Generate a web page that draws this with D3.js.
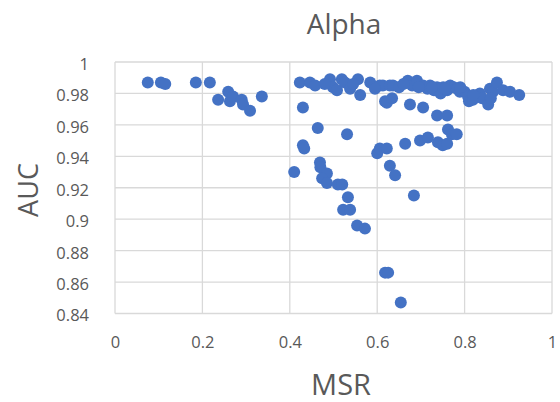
<!DOCTYPE html>
<html>
<head>
<meta charset="utf-8">
<script src="https://cdn.jsdelivr.net/npm/d3@7"></script>
<style>
  html, body { margin: 0; padding: 0; background: #fff; }
  svg text { font-family: "Open Sans", "Noto Sans", sans-serif; fill: #595959; }
</style>
</head>
<body>
<svg id="chart" width="560" height="402"></svg>
<script>
// MSR vs AUC for the Alpha runs
const msr = [
  0.075, 0.105, 0.115, 0.185, 0.217,
  0.236, 0.259, 0.263, 0.270, 0.290, 0.293, 0.309, 0.336,
  0.423, 0.446, 0.458, 0.492, 0.499, 0.508, 0.519, 0.526, 0.538, 0.556, 0.561, 0.584,
  0.606, 0.613, 0.629, 0.636, 0.650, 0.670, 0.680, 0.691, 0.705, 0.715, 0.721, 0.730,
  0.737, 0.745, 0.751, 0.760, 0.767, 0.775, 0.783, 0.789, 0.800, 0.808, 0.810, 0.819,
  0.835, 0.840, 0.854, 0.858, 0.865, 0.874, 0.888, 0.904, 0.925,
  0.480, 0.545, 0.595, 0.660, 0.695, 0.725, 0.755, 0.790, 0.820, 0.860,
  0.430, 0.618, 0.622, 0.634, 0.675, 0.705, 0.737, 0.760,
  0.464, 0.531, 0.430, 0.433, 0.410, 0.469, 0.470, 0.485, 0.474, 0.485, 0.510, 0.520,
  0.533, 0.522, 0.538, 0.554, 0.572,
  0.600, 0.606, 0.622, 0.629, 0.641, 0.664, 0.684, 0.618, 0.625, 0.654,
  0.698, 0.716, 0.739, 0.750, 0.762, 0.771, 0.782, 0.760
];
const auc = [
  0.987, 0.987, 0.986, 0.987, 0.987,
  0.976, 0.981, 0.975, 0.978, 0.976, 0.973, 0.969, 0.978,
  0.987, 0.987, 0.985, 0.989, 0.984, 0.982, 0.989, 0.987, 0.983, 0.989, 0.979, 0.987,
  0.985, 0.985, 0.985, 0.985, 0.984, 0.988, 0.985, 0.988, 0.985, 0.983, 0.985, 0.982,
  0.984, 0.980, 0.984, 0.982, 0.985, 0.984, 0.983, 0.981, 0.981, 0.978, 0.975, 0.976,
  0.980, 0.977, 0.973, 0.983, 0.981, 0.987, 0.982, 0.981, 0.979,
  0.986, 0.986, 0.983, 0.986, 0.984, 0.984, 0.983, 0.984, 0.979, 0.977,
  0.971, 0.975, 0.974, 0.977, 0.973, 0.971, 0.966, 0.966,
  0.958, 0.954, 0.947, 0.945, 0.930, 0.936, 0.933, 0.929, 0.926, 0.923, 0.922, 0.922,
  0.914, 0.906, 0.906, 0.896, 0.894,
  0.942, 0.945, 0.945, 0.934, 0.928, 0.948, 0.915, 0.866, 0.866, 0.847,
  0.950, 0.952, 0.949, 0.947, 0.957, 0.954, 0.954, 0.948
];
const xTicks = [0, 0.2, 0.4, 0.6, 0.8, 1];
const yTicks = [0.84, 0.86, 0.88, 0.9, 0.92, 0.94, 0.96, 0.98, 1];
const chartTitle = "Alpha";
const xTitle = "MSR";
const yTitle = "AUC";

const svg = d3.select("#chart");
const plot = { left: 115, right: 552, top: 62, bottom: 313.5 };

const x = d3.scaleLinear().domain([0, 1]).range([plot.left, plot.right]);
const y = d3.scaleLinear().domain([0.84, 1]).range([plot.bottom, plot.top]);

const fmt = d => String(+d.toFixed(2));

// gridlines
const grid = svg.append("g").attr("stroke", "#d9d9d9").attr("stroke-width", 1.3);
grid.selectAll("line.h").data(yTicks).join("line")
  .attr("x1", plot.left).attr("x2", plot.right)
  .attr("y1", d => y(d)).attr("y2", d => y(d));
grid.selectAll("line.v").data(xTicks).join("line")
  .attr("y1", plot.top).attr("y2", plot.bottom)
  .attr("x1", d => x(d)).attr("x2", d => x(d));

// axes (labels only, gridlines drawn above)
const xAxis = svg.append("g")
  .attr("transform", `translate(0,${plot.bottom})`)
  .call(d3.axisBottom(x).tickValues(xTicks).tickFormat(fmt).tickSize(0).tickPadding(23));
const yAxis = svg.append("g")
  .attr("transform", `translate(${plot.left},0)`)
  .call(d3.axisLeft(y).tickValues(yTicks).tickFormat(fmt).tickSize(0).tickPadding(26));
[xAxis, yAxis].forEach(a => {
  a.select(".domain").remove();
  a.selectAll("text").style("font-size", "16.5px").attr("fill", "#595959");
});
yAxis.selectAll("text").attr("dy", "0.45em");

// points
const pts = msr.map((m, i) => ({ m, a: auc[i] }));
svg.append("g").selectAll("circle").data(pts).join("circle")
  .attr("cx", d => x(d.m)).attr("cy", d => y(d.a))
  .attr("r", 6).attr("fill", "#4472c4");

// titles
svg.append("text").attr("x", 344).attr("y", 34).attr("text-anchor", "middle")
  .style("font-size", "28px").text(chartTitle);
svg.append("text").attr("x", 341).attr("y", 395).attr("text-anchor", "middle")
  .style("font-size", "29px").text(xTitle);
svg.append("text").attr("transform", "translate(38,190) rotate(-90)").attr("text-anchor", "middle")
  .style("font-size", "27px").text(yTitle);
</script>
</body>
</html>
